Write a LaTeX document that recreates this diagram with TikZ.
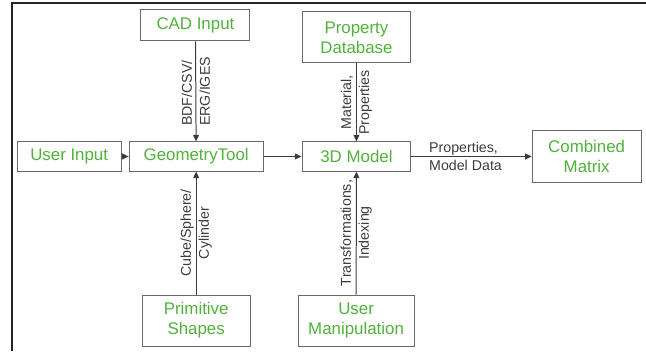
\documentclass[tikz,border=0pt]{standalone}
\usepackage{fontspec}
\setmainfont{Liberation Sans}
\usetikzlibrary{arrows.meta}

\definecolor{boxgreen}{RGB}{80,178,58}
\definecolor{boxgray}{RGB}{105,105,105}
\definecolor{lblgray}{RGB}{60,60,60}

\tikzset{
    blk/.style={draw=boxgray, line width=0.75pt, text=boxgreen, align=center, inner sep=0pt,
        font=\fontsize{12.7}{15}\selectfont},
    lbl/.style={text=lblgray, inner sep=1pt, font=\fontsize{10.7}{13.5}\selectfont},
    flow/.style={draw=lblgray, line width=0.75pt, -{Triangle[length=5pt,width=4.5pt]}}
}

\begin{document}
\begin{tikzpicture}
    \useasboundingbox (0,0) rectangle (17.09,-9.29);

    % frame (cut at right and bottom)
    \draw[line width=1.6pt, black!85] (0.32,-9.29) -- (0.32,-0.08) -- (17.09,-0.08);

    \node (b1) at (5.17,-0.67) [blk, minimum width=2.88cm, minimum height=0.82cm] {CAD Input};
    \node (b2) at (9.43,-0.99) [blk, minimum width=2.88cm, minimum height=1.35cm] {Property\\Database};

    \node (b3) at (1.83,-4.14) [blk, minimum width=2.75cm, minimum height=0.77cm] {User Input};
    \node (b4) at (5.19,-4.14) [blk, minimum width=3.55cm, minimum height=0.77cm] {GeometryTool};
    \node (b5) at (9.43,-4.14) [blk, minimum width=2.88cm, minimum height=0.77cm] {3D Model};
    \node (b6) at (15.52,-4.14) [blk, minimum width=2.88cm, minimum height=1.35cm] {Combined\\Matrix};

    \node (b7) at (5.19,-8.48) [blk, minimum width=2.86cm, minimum height=1.35cm] {Primitive\\Shapes};
    \node (b8) at (9.42,-8.48) [blk, minimum width=3.07cm, minimum height=1.35cm] {User\\Manipulation};

    \draw [flow] (b1) -- node[lbl, rotate=90, align=left] {BDF/CSV/\\ERG/IGES} (b4);
    \draw [flow] (b2) -- node[lbl, rotate=90, align=center] {Material,\\Properties} (b5);
    \draw [flow] (b3) -- (b4);
    \draw [flow] (b4) -- (b5);
    \draw [flow] (b5) -- node[lbl, pos=0.45, align=left] {Properties,\\Model Data} (b6);
    \draw [flow] (b7) -- node[lbl, rotate=90, align=center] {Cube/Sphere/\\Cylinder} (b4);
    \draw [flow] (b8) -- node[lbl, rotate=90, align=center] {Transformations,\\Indexing} (b5);

\end{tikzpicture}
\end{document}
